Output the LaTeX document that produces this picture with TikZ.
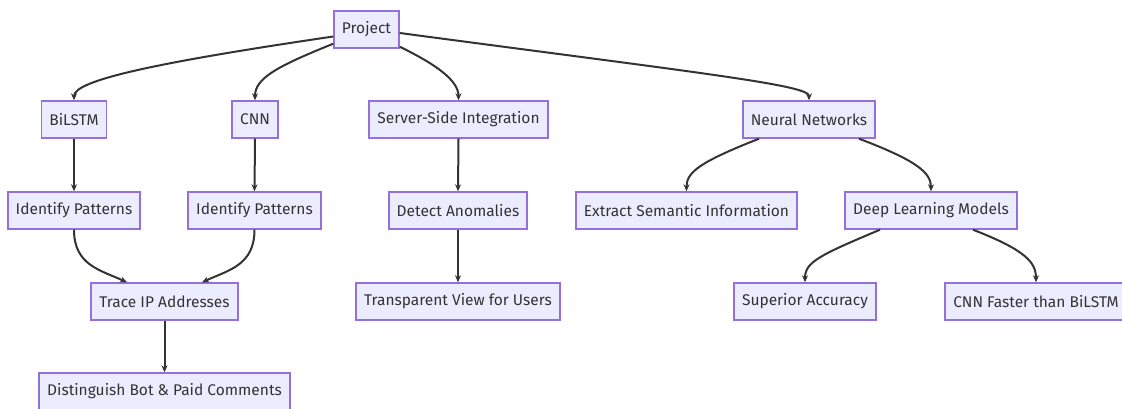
\documentclass[tikz,border=0pt]{standalone}
\usepackage{fontspec}
\setmainfont{Fira Sans}
\usetikzlibrary{arrows.meta}
\definecolor{boxfill}{HTML}{ECECFF}
\definecolor{boxline}{HTML}{9370DB}
\definecolor{txt}{HTML}{333333}
\begin{document}
\begin{tikzpicture}[x=1pt,y=-1pt,
  box/.style={draw=boxline, fill=boxfill, line width=1.4pt, text=txt,
    font=\fontsize{15.5}{18}\selectfont, inner sep=0pt, minimum height=37pt, anchor=center},
  link/.style={draw=txt, line width=2pt, -{Stealth[length=7pt,width=6pt]}}]
\useasboundingbox[fill=white] (0,0) rectangle (1122,409);
% row 1
\node[box, minimum width=65pt]  (P)   at (366.5,29.5) {Project};
% row 2
\node[box, minimum width=65pt]  (B)   at (74,119.5)   {BiLSTM};
\node[box, minimum width=46pt]  (C)   at (255,119.5)  {CNN};
\node[box, minimum width=179pt] (S)   at (458.5,119.5){Server-Side Integration};
\node[box, minimum width=132pt] (N)   at (809,119.5)  {Neural Networks};
% row 3
\node[box, minimum width=132pt] (IP1) at (74,210.5)   {Identify Patterns};
\node[box, minimum width=133pt] (IP2) at (254.5,210.5){Identify Patterns};
\node[box, minimum width=138pt] (D)   at (458,210.5)  {Detect Anomalies};
\node[box, minimum width=221pt] (E)   at (686.5,210.5){Extract Semantic Information};
\node[box, minimum width=172pt] (DL)  at (931,210.5)  {Deep Learning Models};
% row 4
\node[box, minimum width=147pt] (T)   at (164.5,301.5){Trace IP Addresses};
\node[box, minimum width=204pt] (TV)  at (458,301.5)  {Transparent View for Users};
\node[box, minimum width=142pt] (SA)  at (805,301.5)  {Superior Accuracy};
\node[box, minimum width=182pt] (CF)  at (1036,301.5) {CNN Faster than BiLSTM};
% row 5
\node[box, minimum width=251pt] (DB)  at (164.5,391.5){Distinguish Bot \& Paid Comments};
% connectors
\draw[link] ([yshift=-7pt]P.west) .. controls (160,62) and (74,80) .. (B.north);
\draw[link] ([yshift=5pt]P.south west) .. controls (278,66) and (255,78) .. (C.north);
\draw[link] ([yshift=2pt]P.south east) .. controls (435,64) and (458.5,80) .. (S.north);
\draw[link] ([yshift=-3.5pt]P.east) .. controls (700,73) and (809,85) .. (N.north);
\draw[link] (B.south) -- (IP1.north);
\draw[link] (C.south) -- (IP2.north);
\draw[link] (S.south) -- (D.north);
\draw[link] (D.south) -- (TV.north);
\draw[link] (T.south) -- (DB.north);
\draw[link] (IP1.south) .. controls (74,265) and (100,270) .. ([xshift=-37.5pt]T.north);
\draw[link] (IP2.south) .. controls (254.5,265) and (229,270) .. ([xshift=37.5pt]T.north);
\draw[link] ([xshift=-50pt]N.south) .. controls (700,162) and (686.5,172) .. (E.north);
\draw[link] ([xshift=50pt]N.south) .. controls (915,160) and (931,172) .. (DL.north);
\draw[link] ([xshift=-51pt]DL.south) .. controls (820,255) and (805,262) .. (SA.north);
\draw[link] ([xshift=42pt]DL.south) .. controls (1025,250) and (1036,262) .. (CF.north);
\end{tikzpicture}
\end{document}
